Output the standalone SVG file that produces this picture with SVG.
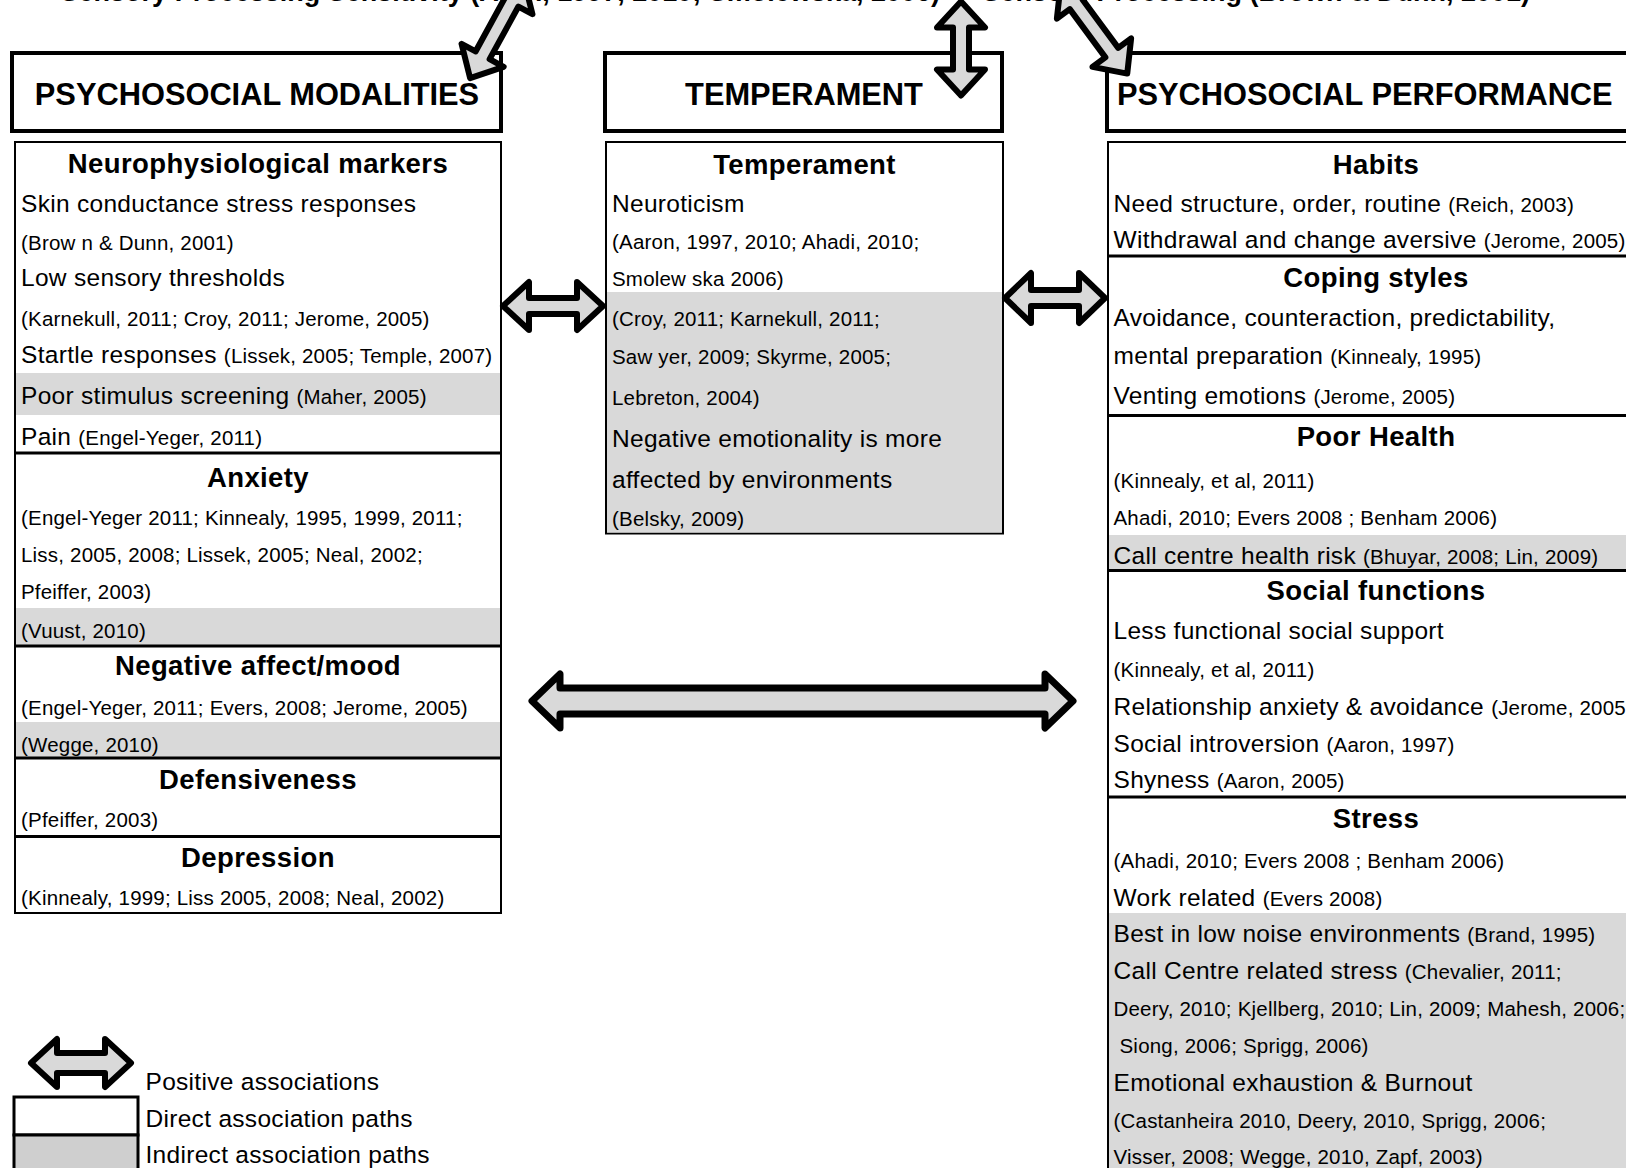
<svg xmlns="http://www.w3.org/2000/svg" width="1626" height="1168" viewBox="0 0 1626 1168">
  <defs>
    <style>
      text { font-family: "Liberation Sans", Arial, sans-serif; fill: #000; }
      .hdr { fill: #fff; stroke: #000; stroke-width: 4; }
      .box { fill: #fff; stroke: #000; stroke-width: 2; }
      .sep { stroke: #000; stroke-width: 3; }
      .shade { fill: #d9d9d9; }
      .lgshade { fill: #cfcfcf; stroke: #000; stroke-width: 3; }
      .lgwhite { fill: #fff; stroke: #000; stroke-width: 3; }
      .h { font-size: 30.8px; font-weight: bold; }
      .t { font-size: 27.5px; font-weight: bold; letter-spacing: 0.4px; text-anchor: middle; }
      .b { font-size: 24.5px; letter-spacing: 0.3px; }
      .r { font-size: 20.5px; letter-spacing: 0.2px; }
      .top { font-size: 27px; font-weight: bold; }
      .arrow { fill: #d9d9d9; stroke: #000; stroke-width: 6; stroke-linejoin: round; }
      .arrow-long { fill: #d9d9d9; stroke: #000; stroke-width: 7; stroke-linejoin: round; }
    </style>
  </defs>

  <rect width="1626" height="1168" fill="#fff"/>

  <!-- headings running along the top edge -->
  <g id="top-labels">
    <text class="top" x="940" y="0.5" text-anchor="end">Sensory Processing Sensitivity (Aron, 1997, 2010; Smolewska, 2006)</text>
    <text class="top" x="1530" y="0.5" text-anchor="end">Sensory Processing (Brown &amp; Dunn, 2001)</text>
  </g>

  <!-- column headers -->
  <g id="hdr-modalities">
    <rect class="hdr" x="12" y="53" width="489" height="78"/>
    <text class="h" x="257" y="105" text-anchor="middle">PSYCHOSOCIAL MODALITIES</text>
  </g>
  <g id="hdr-temperament">
    <rect class="hdr" x="605" y="53" width="397" height="78"/>
    <text class="h" x="804" y="105" text-anchor="middle">TEMPERAMENT</text>
  </g>
  <g id="hdr-performance">
    <rect class="hdr" x="1107" y="53" width="545" height="78"/>
    <text class="h" x="1117" y="105">PSYCHOSOCIAL PERFORMANCE</text>
  </g>

  <!-- left column: psychosocial modalities -->
  <g id="col-modalities">
    <rect class="box" x="15" y="142" width="486" height="771"/>
    <rect class="shade" x="16" y="373" width="484" height="42"/>
    <rect class="shade" x="16" y="608" width="484" height="38"/>
    <rect class="shade" x="16" y="722" width="484" height="36"/>
    <line class="sep" x1="15" y1="453" x2="501" y2="453"/>
    <line class="sep" x1="15" y1="646" x2="501" y2="646"/>
    <line class="sep" x1="15" y1="758" x2="501" y2="758"/>
    <line class="sep" x1="15" y1="836.5" x2="501" y2="836.5"/>

    <text class="t" x="258" y="173">Neurophysiological markers</text>
    <text class="b" x="21" y="212">Skin conductance stress responses</text>
    <text class="r" x="21" y="250">(Brow n &amp; Dunn, 2001)</text>
    <text class="b" x="21" y="286">Low sensory thresholds</text>
    <text class="r" x="21" y="325.5">(Karnekull, 2011; Croy, 2011; Jerome, 2005)</text>
    <text class="b" x="21" y="362.5">Startle responses <tspan class="r">(Lissek, 2005; Temple, 2007)</tspan></text>
    <text class="b" x="21" y="404">Poor stimulus screening <tspan class="r">(Maher, 2005)</tspan></text>
    <text class="b" x="21" y="444.5">Pain <tspan class="r">(Engel-Yeger, 2011)</tspan></text>

    <text class="t" x="258" y="487">Anxiety</text>
    <text class="r" x="21" y="525">(Engel-Yeger 2011; Kinnealy, 1995, 1999, 2011;</text>
    <text class="r" x="21" y="562">Liss, 2005, 2008; Lissek, 2005; Neal, 2002;</text>
    <text class="r" x="21" y="599">Pfeiffer, 2003)</text>
    <text class="r" x="21" y="638">(Vuust, 2010)</text>

    <text class="t" x="258" y="675">Negative affect/mood</text>
    <text class="r" x="21" y="715">(Engel-Yeger, 2011; Evers, 2008; Jerome, 2005)</text>
    <text class="r" x="21" y="752">(Wegge, 2010)</text>

    <text class="t" x="258" y="788.5">Defensiveness</text>
    <text class="r" x="21" y="826.5">(Pfeiffer, 2003)</text>

    <text class="t" x="258" y="866.5">Depression</text>
    <text class="r" x="21" y="905">(Kinnealy, 1999; Liss 2005, 2008; Neal, 2002)</text>
  </g>

  <!-- middle column: temperament -->
  <g id="col-temperament">
    <rect class="box" x="606" y="142" width="397" height="391.5"/>
    <rect class="shade" x="607" y="292" width="395" height="240.5"/>
    <text class="t" x="804.5" y="173.5">Temperament</text>
    <text class="b" x="612" y="212">Neuroticism</text>
    <text class="r" x="612" y="249">(Aaron, 1997, 2010; Ahadi, 2010;</text>
    <text class="r" x="612" y="286">Smolew ska 2006)</text>
    <text class="r" x="612" y="325.5">(Croy, 2011; Karnekull, 2011;</text>
    <text class="r" x="612" y="364">Saw yer, 2009; Skyrme, 2005;</text>
    <text class="r" x="612" y="405">Lebreton, 2004)</text>
    <text class="b" x="612" y="447">Negative emotionality is more</text>
    <text class="b" x="612" y="487.5">affected by environments</text>
    <text class="r" x="612" y="525.5">(Belsky, 2009)</text>
  </g>

  <!-- right column: psychosocial performance -->
  <g id="col-performance">
    <rect class="box" x="1108" y="142" width="544" height="1040"/>
    <rect class="shade" x="1109" y="535" width="542" height="35.5"/>
    <rect class="shade" x="1109" y="913" width="542" height="268"/>
    <line class="sep" x1="1108" y1="256" x2="1652" y2="256"/>
    <line class="sep" x1="1108" y1="415.5" x2="1652" y2="415.5"/>
    <line class="sep" x1="1108" y1="570.5" x2="1652" y2="570.5"/>
    <line class="sep" x1="1108" y1="797" x2="1652" y2="797"/>

    <text class="t" x="1376" y="173.5">Habits</text>
    <text class="b" x="1113.5" y="212">Need structure, order, routine <tspan class="r">(Reich, 2003)</tspan></text>
    <text class="b" x="1113.5" y="248">Withdrawal and change aversive <tspan class="r">(Jerome, 2005)</tspan></text>

    <text class="t" x="1376" y="286.5">Coping styles</text>
    <text class="b" x="1113.5" y="326">Avoidance, counteraction, predictability,</text>
    <text class="b" x="1113.5" y="363.5">mental preparation <tspan class="r">(Kinnealy, 1995)</tspan></text>
    <text class="b" x="1113.5" y="403.5">Venting emotions <tspan class="r">(Jerome, 2005)</tspan></text>

    <text class="t" x="1376" y="446">Poor Health</text>
    <text class="r" x="1113.5" y="487.5">(Kinnealy, et al, 2011)</text>
    <text class="r" x="1113.5" y="525">Ahadi, 2010; Evers 2008 ; Benham 2006)</text>
    <text class="b" x="1113.5" y="563.5">Call centre health risk <tspan class="r">(Bhuyar, 2008; Lin, 2009)</tspan></text>

    <text class="t" x="1376" y="599.5">Social functions</text>
    <text class="b" x="1113.5" y="639">Less functional social support</text>
    <text class="r" x="1113.5" y="676.5">(Kinnealy, et al, 2011)</text>
    <text class="b" x="1113.5" y="715">Relationship anxiety &amp; avoidance <tspan class="r">(Jerome, 2005</tspan></text>
    <text class="b" x="1113.5" y="752">Social introversion <tspan class="r">(Aaron, 1997)</tspan></text>
    <text class="b" x="1113.5" y="788">Shyness <tspan class="r">(Aaron, 2005)</tspan></text>

    <text class="t" x="1376" y="828">Stress</text>
    <text class="r" x="1113.5" y="867.5">(Ahadi, 2010; Evers 2008 ; Benham 2006)</text>
    <text class="b" x="1113.5" y="905.5">Work related <tspan class="r">(Evers 2008)</tspan></text>
    <text class="b" x="1113.5" y="942">Best in low noise environments <tspan class="r">(Brand, 1995)</tspan></text>
    <text class="b" x="1113.5" y="979">Call Centre related stress <tspan class="r">(Chevalier, 2011;</tspan></text>
    <text class="r" x="1113.5" y="1015.5">Deery, 2010; Kjellberg, 2010; Lin, 2009; Mahesh, 2006;</text>
    <text class="r" x="1119.5" y="1053">Siong, 2006; Sprigg, 2006)</text>
    <text class="b" x="1113.5" y="1090.5">Emotional exhaustion &amp; Burnout</text>
    <text class="r" x="1113.5" y="1127.5">(Castanheira 2010, Deery, 2010, Sprigg, 2006;</text>
    <text class="r" x="1113.5" y="1164">Visser, 2008; Wegge, 2010, Zapf, 2003)</text>
  </g>

  <!-- key -->
  <g id="legend">
    <path class="arrow" d="M-50,0 L-24,-24 L-24,-10 L24,-10 L24,-24 L50,0 L24,24 L24,10 L-24,10 L-24,24 Z" transform="translate(81,1063)"/>
    <rect class="lgwhite" x="14" y="1097" width="124" height="38"/>
    <rect class="lgshade" x="14" y="1135" width="124" height="40"/>
    <text class="b" x="145.5" y="1090">Positive associations</text>
    <text class="b" x="145.5" y="1126.5">Direct association paths</text>
    <text class="b" x="145.5" y="1163">Indirect association paths</text>
  </g>

  <!-- double-headed association arrows -->
  <g id="connectors">
    <!-- modalities <-> temperament -->
    <path class="arrow" d="M-50,0 L-24,-24 L-24,-8 L24,-8 L24,-24 L50,0 L24,24 L24,8 L-24,8 L-24,24 Z" transform="translate(553,306)"/>
    <!-- temperament <-> performance -->
    <path class="arrow" d="M-50,0 L-24,-25 L-24,-8 L24,-8 L24,-25 L50,0 L24,25 L24,8 L-24,8 L-24,25 Z" transform="translate(1055,298)"/>
    <!-- modalities <-> performance -->
    <path class="arrow-long" d="M-270.5,0 L-242.5,-27 L-242.5,-13 L242.5,-13 L242.5,-27 L270.5,0 L242.5,27 L242.5,13 L-242.5,13 L-242.5,27 Z" transform="translate(802.5,701)"/>
    <!-- links to the top headings -->
    <path class="arrow" d="M-56,0 L-30,-24 L-30,-8 L30,-8 L30,-24 L56,0 L30,24 L30,8 L-30,8 L-30,24 Z" transform="translate(497,29) rotate(-61.3)"/>
    <path class="arrow" d="M-47,0 L-21,-24 L-21,-8 L21,-8 L21,-24 L47,0 L21,24 L21,8 L-21,8 L-21,24 Z" transform="translate(961,48.5) rotate(90)"/>
    <path class="arrow" d="M-56,0 L-30,-24 L-30,-8 L30,-8 L30,-24 L56,0 L30,24 L30,8 L-30,8 L-30,24 Z" transform="translate(1094,28.5) rotate(53.6)"/>
  </g>
</svg>
